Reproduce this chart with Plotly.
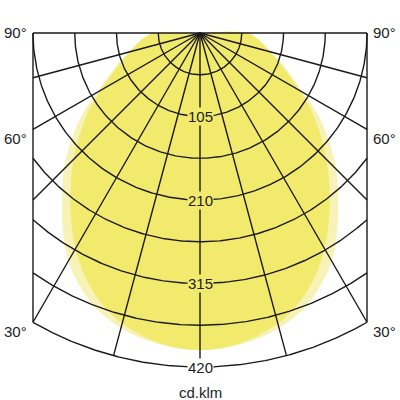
import numpy as np
import plotly.graph_objects as go

# --- Data ---
# gamma angles from nadir (deg), intensity in cd/klm
gamma = [0, 5, 10, 15, 20, 25, 30, 35, 40, 45, 50, 55, 60, 65, 70, 75, 80, 85, 90]
c0_c180 = [399, 397, 392, 384, 372, 354, 331, 301, 270, 242, 212, 182, 150, 126, 109, 93, 82, 72, 60]
c90_c270 = [399, 396, 389, 378, 362, 340, 313, 283, 253, 225, 197, 171, 144, 122, 105, 91, 80, 70, 60]

ring_labels = [105, 210, 315, 420]
ring_step = 52.5
spoke_step = 15
angle_labels = [90, 60, 30]
unit_label = 'cd.klm'

R_MAX = 420
HALF_W = 210

LINE = '#1a1a1a'
TEXT = '#222222'
PALE = '#f7f3b6'
YELLOW = '#f1ea6d'


def polar_xy(angles_deg, radii):
    a = np.radians(np.asarray(angles_deg, dtype=float))
    r = np.asarray(radii, dtype=float)
    return r * np.sin(a), -r * np.cos(a)


def curve_polygon(values):
    # mirror the half curve so it runs from -90 through nadir to +90, then close at the centre
    ang = [-g for g in gamma[::-1]] + gamma[1:]
    val = values[::-1] + values[1:]
    x, y = polar_xy(ang, val)
    return np.append(x, 0), np.append(y, 0)


fig = go.Figure()

# --- 1. Light distribution fills ---
for values, colour in [(c0_c180, PALE), (c90_c270, YELLOW)]:
    x, y = curve_polygon(values)
    fig.add_trace(go.Scatter(x=x, y=y, mode='lines', fill='toself', fillcolor=colour,
                             line=dict(width=0, shape='spline'), hoverinfo='skip'))

# --- 2. Grid: arcs and spokes, clipped to the frame ---
gx, gy = [], []
for k in range(1, int(R_MAX / ring_step) + 1):
    r = k * ring_step
    tmax = 90.0 if r <= HALF_W else np.degrees(np.arcsin(HALF_W / r))
    t = np.linspace(-tmax, tmax, 241)
    x, y = polar_xy(t, np.full_like(t, r))
    gx += list(x) + [None]
    gy += list(y) + [None]

for a in range(-90, 91, spoke_step):
    s = abs(np.sin(np.radians(a)))
    length = R_MAX if s < 1e-9 else min(R_MAX, HALF_W / s)
    x, y = polar_xy([a], [length])
    gx += [0, x[0], None]
    gy += [0, y[0], None]

# side borders of the frame
y_corner = -np.sqrt(R_MAX ** 2 - HALF_W ** 2)
for side in (-1, 1):
    gx += [side * HALF_W, side * HALF_W, None]
    gy += [0, y_corner, None]

fig.add_trace(go.Scatter(x=gx, y=gy, mode='lines', line=dict(color=LINE, width=1.4),
                         hoverinfo='skip'))

# --- 3. Labels ---
font = dict(family='Liberation Sans, Arial, sans-serif', size=15, color=TEXT)

for v in ring_labels:
    fig.add_annotation(x=0, y=-v, text=str(v), showarrow=False, font=font,
                       bgcolor='white' if v == R_MAX else YELLOW, borderpad=0)

for a in angle_labels:
    y = -HALF_W / np.tan(np.radians(a)) if a < 90 else 0
    shift = 0 if a == 90 else -9
    fig.add_annotation(x=-HALF_W, y=y, text=f'{a}°', showarrow=False, font=font,
                       xanchor='right', xshift=-4, yshift=shift)
    fig.add_annotation(x=HALF_W, y=y, text=f'{a}°', showarrow=False, font=font,
                       xanchor='left', xshift=4, yshift=shift)

fig.add_annotation(x=0, y=-R_MAX, text=unit_label, showarrow=False, font=font,
                   yshift=-25)

fig.update_layout(
    width=400, height=400,
    margin=dict(l=31, r=31, t=31, b=31),
    paper_bgcolor='white', plot_bgcolor='white',
    showlegend=False,
    xaxis=dict(range=[-212.5, 212.5], visible=False, fixedrange=True),
    yaxis=dict(range=[-422.5, 2.5], visible=False, fixedrange=True),
)

# drop the page's default body margin so the 400px figure fills the window exactly
fig.write_html('out.html', config={'displayModeBar': False},
               post_script="document.body.style.margin='0';document.body.style.overflow='hidden';")
